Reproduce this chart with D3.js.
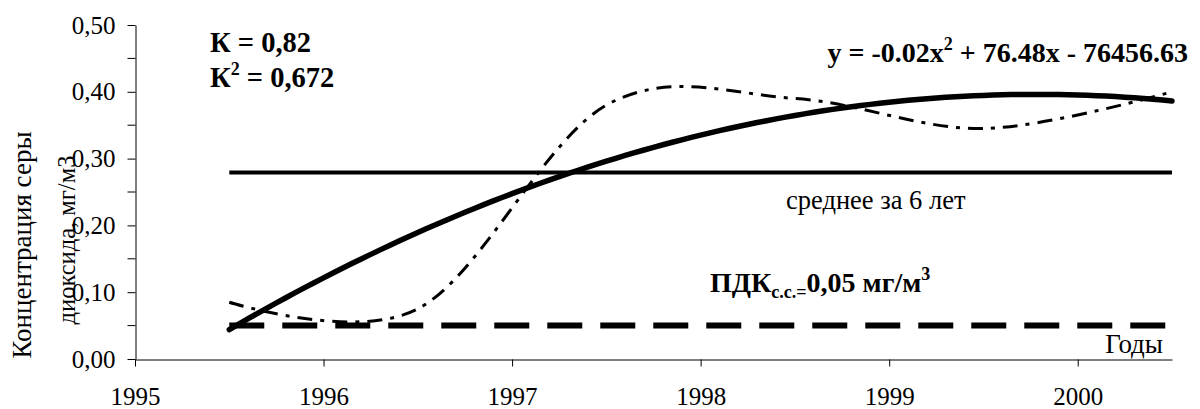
<!DOCTYPE html>
<html><head><meta charset="utf-8">
<script src="https://cdn.jsdelivr.net/npm/d3@7"></script>
<style>
body{margin:0;background:#fff;}
svg{display:block;}
</style></head>
<body><svg id="c" width="1200" height="409" font-family="Liberation Serif"></svg>
<script>
// ---- data ----
const years = [1995.5, 1996.5, 1997.5, 1998.5, 1999.5, 2000.5];
const so2 = [0.085, 0.075, 0.38, 0.39, 0.345, 0.40];
const pdkValue = 0.05;
const xTickValues = [1995, 1996, 1997, 1998, 1999, 2000];
const yMajorTicks = [0, 0.1, 0.2, 0.3, 0.4, 0.5];
const yMinorTicks = [0.05, 0.15, 0.25, 0.35, 0.45];

const FONT = "Liberation Serif";
const svg = d3.select("#c");
const x = d3.scaleLinear().domain([1995, 2000.5]).range([135, 1172]);
const y = d3.scaleLinear().domain([0, 0.5]).range([359, 25]);

// axes
const yAxis = d3.axisLeft(y).tickValues(yMajorTicks).tickSize(8).tickSizeOuter(0).tickPadding(12)
  .tickFormat(d => d3.format(".2f")(d).replace(".", ","));
const gy = svg.append("g").attr("transform", "translate(135.5,0)").call(yAxis);
gy.append("g").selectAll("line").data(yMinorTicks).join("line")
  .attr("x1", -8).attr("x2", 0).attr("y1", d => y(d)).attr("y2", d => y(d)).attr("stroke", "#000");

const xAxis = d3.axisBottom(x).tickValues(xTickValues).tickSize(7).tickSizeOuter(0).tickFormat(d3.format("d"));
const gx = svg.append("g").attr("transform", "translate(0,359.5)").call(xAxis);
gx.selectAll("text").attr("y", 45).attr("dy", "0");
svg.selectAll(".domain, .tick line").attr("stroke", "#000").attr("stroke-width", 1);
[gx, gy].forEach(g => g.attr("font-family", FONT).attr("font-size", 25));
svg.selectAll(".tick text").attr("font-family", FONT).attr("font-size", 25).attr("fill", "#000");

// mean line
const meanVal = d3.mean(so2);
svg.append("line").attr("x1", x(years[0])).attr("x2", x(years[years.length-1]))
  .attr("y1", y(meanVal)).attr("y2", y(meanVal)).attr("stroke", "#000").attr("stroke-width", 4);

// PDK dashed line
svg.append("line").attr("x1", x(years[0])).attr("x2", x(years[years.length-1]))
  .attr("y1", y(pdkValue)).attr("y2", y(pdkValue)).attr("stroke", "#000").attr("stroke-width", 6)
  .attr("stroke-dasharray", "35 18");

// data smoothed dash-dot line
const line = d3.line().x((d, i) => x(years[i])).y(d => y(d)).curve(d3.curveCardinal.tension(0));
svg.append("path").attr("d", line(so2)).attr("fill", "none").attr("stroke", "#000")
  .attr("stroke-width", 3).attr("stroke-dasharray", "15 8 4 8");

// quadratic trend (least squares)
const n = years.length;
const t0 = d3.mean(years);
const s = years.map(v => v - t0);
const S1 = d3.sum(s), S2 = d3.sum(s, v => v*v), S3 = d3.sum(s, v => v**3), S4 = d3.sum(s, v => v**4);
const Sv = d3.sum(so2), Ssv = d3.sum(s, (v,i) => v*so2[i]), Ss2v = d3.sum(s, (v,i) => v*v*so2[i]);
function solve(A, b){
  const m = A.map((r,i)=>[...r,b[i]]);
  for(let i=0;i<3;i++){
    let p=i; for(let k=i+1;k<3;k++) if(Math.abs(m[k][i])>Math.abs(m[p][i])) p=k;
    [m[i],m[p]]=[m[p],m[i]];
    for(let k=0;k<3;k++){ if(k===i) continue; const f=m[k][i]/m[i][i]; for(let j=i;j<4;j++) m[k][j]-=f*m[i][j]; }
  }
  return m.map((r,i)=>r[3]/r[i]);
}
const [a0,a1,a2] = solve([[n,S1,S2],[S1,S2,S3],[S2,S3,S4]], [Sv,Ssv,Ss2v]);
const trend = t => a0 + a1*(t-t0) + a2*(t-t0)*(t-t0);
const tt = d3.range(0, 101).map(i => years[0] + (years[n-1]-years[0]) * i / 100);
svg.append("path").attr("d", d3.line().x(d => x(d)).y(d => y(trend(d)))(tt))
  .attr("fill", "none").attr("stroke", "#000").attr("stroke-width", 5.5).attr("stroke-linecap", "round");

// text helper
function txt(xp, yp, size, bold){
  return svg.append("text").attr("x", xp).attr("y", yp)
    .attr("font-family", FONT).attr("font-size", size).attr("font-weight", bold ? "bold" : "normal");
}

// y axis title
svg.append("text").attr("transform", "translate(31,245) rotate(-90)").attr("text-anchor", "middle")
  .attr("font-family", FONT).attr("font-size", 27).text("Концентрация серы");
svg.append("text").attr("transform", "translate(75,240) rotate(-90)").attr("text-anchor", "middle")
  .attr("font-family", FONT).attr("font-size", 24.5).text("диоксида, мг/м3");

// annotations
txt(210, 52, 28.5, true).text("К = 0,82");
const k2 = txt(210, 87, 28.5, true);
k2.append("tspan").text("К");
k2.append("tspan").attr("dy", -12).attr("font-size", 18).text("2");
k2.append("tspan").attr("dy", 12).text(" = 0,672");

const eq = txt(1188, 62, 28, true).attr("text-anchor", "end");
eq.append("tspan").text("y = -0.02x");
eq.append("tspan").attr("dy", -12).attr("font-size", 18).text("2");
eq.append("tspan").attr("dy", 12).text(" + 76.48x - 76456.63");

txt(786, 209, 26.5, false).text("среднее за 6 лет");

const pdk = txt(710, 292, 28, true);
pdk.append("tspan").text("ПДК");
pdk.append("tspan").attr("dy", 6).attr("font-size", 18).text("с.с.=");
pdk.append("tspan").attr("dy", -6).text("0,05 мг/м");
pdk.append("tspan").attr("dy", -12).attr("font-size", 18).text("3");

txt(1163, 353, 27, false).attr("text-anchor", "end").text("Годы");
</script></body></html>
